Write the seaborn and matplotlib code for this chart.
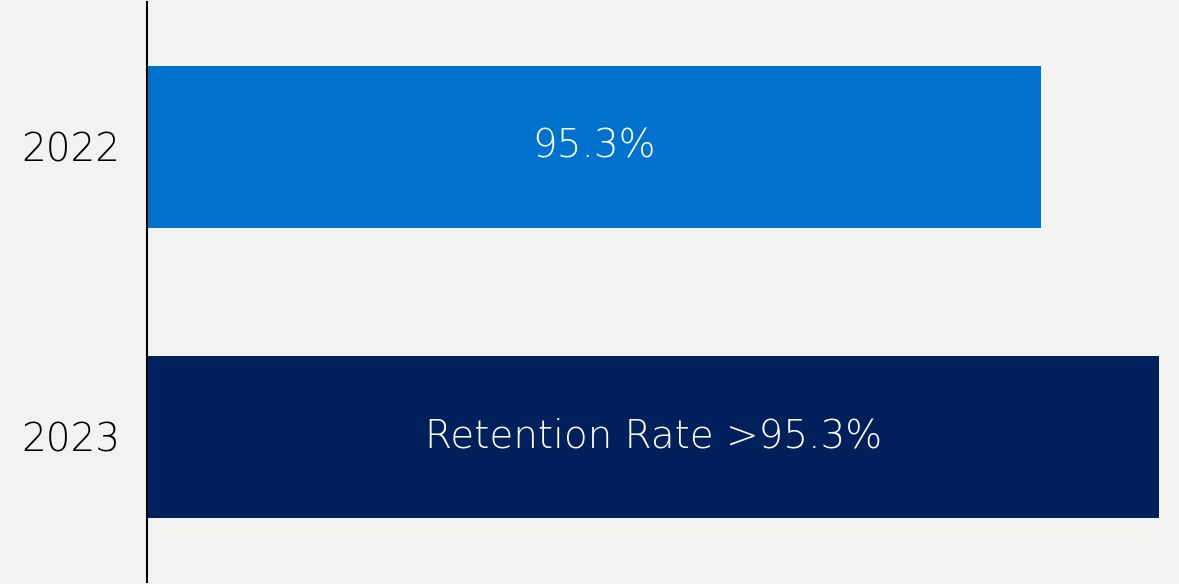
import matplotlib
matplotlib.use("Agg")
import matplotlib.pyplot as plt
import seaborn as sns
import pandas as pd

years = ["2022", "2023"]
values = [95.3, 96.4]
labels = ["95.3%", "Retention Rate >95.3%"]
colors = ["#0072CE", "#00205B"]
x_min = 87.0

sns.set_theme(style="white")
plt.rcParams['font.family'] = ['DejaVu Sans']

df = pd.DataFrame({"year": years, "value": [v - x_min for v in values]})

bg = "#F2F2F0"
fig = plt.figure(figsize=(11.79, 5.84), dpi=100, facecolor=bg)
ax = fig.add_axes([147 / 1179, 2 / 584, 1 - 147 / 1179, 580 / 584])
ax.set_facecolor(bg)

sns.barplot(data=df, y="year", x="value", hue="year", palette=colors,
            orient="h", width=0.556, legend=False, ax=ax, saturation=1,
            linewidth=0)

ax.set_xlim(0, 1032 / 107.7)
ax.set_ylim(1.5, -0.5)

for i, (v, lab) in enumerate(zip(df["value"], labels)):
    ax.text(v / 2, i, lab, ha="center", va="center", color="white",
            fontsize=28, fontweight="light")

for s in ["top", "right", "bottom"]:
    ax.spines[s].set_visible(False)
ax.spines["left"].set_color("black")
ax.spines["left"].set_linewidth(1.5)
ax.set_xticks([])
ax.set_xlabel("")
ax.set_ylabel("")
ax.tick_params(axis="y", length=0, pad=19, labelsize=28)
for t in ax.get_yticklabels():
    t.set_fontweight("light")
    t.set_color("#000000")

fig.savefig("out.png", dpi=100, facecolor=bg)
